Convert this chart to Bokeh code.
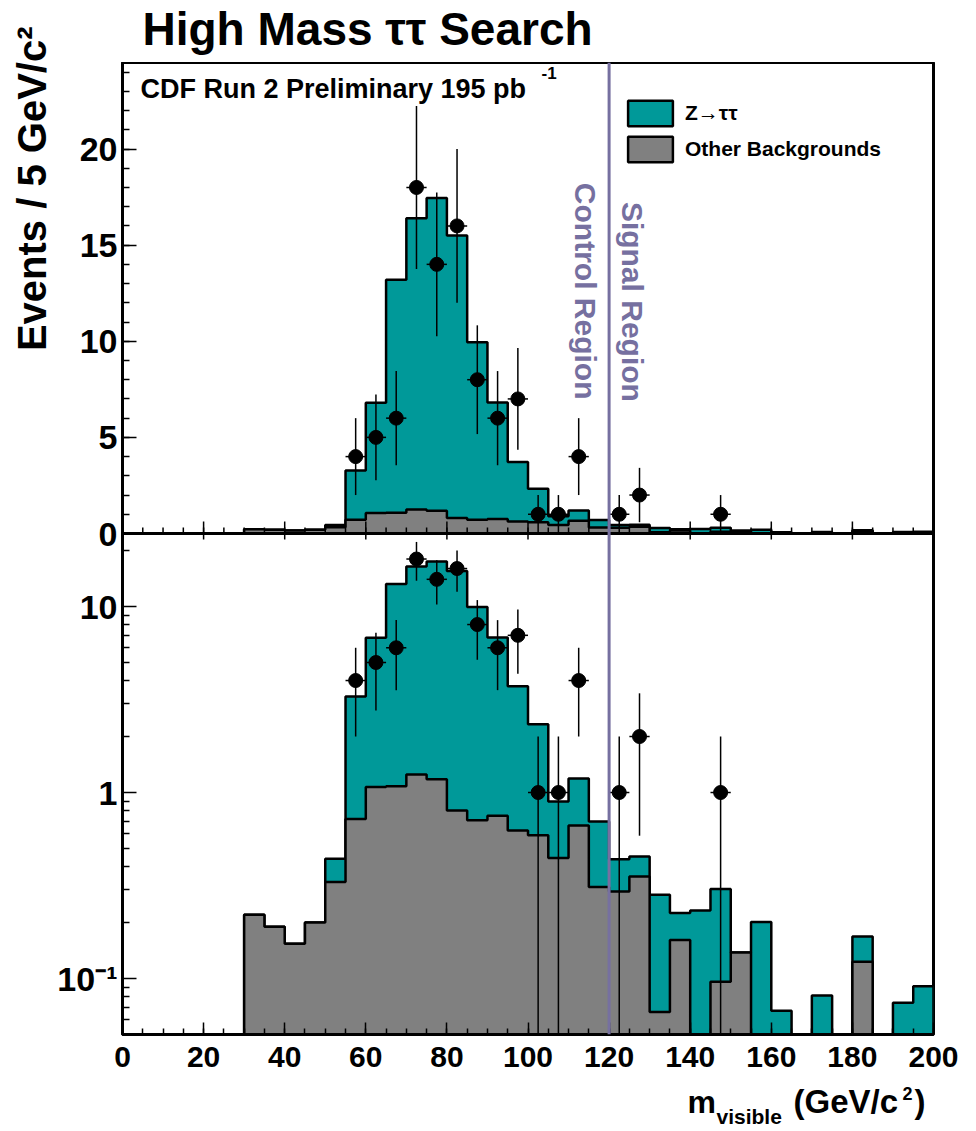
import numpy as np
from bokeh.plotting import figure
from bokeh.layouts import column, row
from bokeh.models import (FixedTicker, Span, Label, Legend, LegendItem, Range1d,
                          ColumnDataSource, LogScale)
from bokeh.embed import file_html
from bokeh.resources import INLINE

# ---------------- data ----------------
bin_low = list(range(0, 200, 5))          # lower edges of the 5 GeV bins
bin_width = 5

other_bkg = [0, 0, 0, 0, 0, 0,
             0.22, 0.19, 0.154, 0.20, 0.33, 0.72, 1.07, 1.08, 1.25, 1.18,
             0.80, 0.71, 0.75, 0.625, 0.59, 0.444, 0.665, 0.31, 0.294, 0.353,
             0.066, 0.161, 0, 0.096, 0.138, 0, 0, 0, 0, 0, 0.123, 0, 0, 0]

z_tautau = [0, 0, 0, 0, 0, 0, 0, 0, 0, 0,
            0.11, 2.56, 5.73, 12.12, 15.15, 16.27, 14.7, 9.24, 6.07, 3.10,
            1.74, 0.451, 0.525, 0.388, 0.144, 0.100, 0.216, 0.064, 0.232, 0.207,
            0, 0.201, 0.067, 0, 0.081, 0, 0.045, 0, 0.074, 0.091]

data_counts = [0, 0, 0, 0, 0, 0, 0, 0, 0, 0,
               0, 4, 5, 6, 18, 14, 16, 8, 6, 7,
               1, 1, 4, 0, 1, 2, 0, 0, 0, 1,
               0, 0, 0, 0, 0, 0, 0, 0, 0, 0]

boundary = 120  # control / signal region boundary

x_major = list(range(0, 201, 20))
x_minor = list(range(0, 201, 5))
lin_major = [0, 5, 10, 15, 20]
lin_minor = list(range(0, 25))
log_major = [0.1, 1, 10]
log_labels = ["10⁻¹", "1", "10"]
log_minor = [0.05, 0.06, 0.07, 0.08, 0.09, 0.2, 0.3, 0.4, 0.5, 0.6, 0.7, 0.8, 0.9,
             2, 3, 4, 5, 6, 7, 8, 9, 20]

TEAL = "#009999"
GRAY = "#808080"
PURPLE = "#7670a0"
FONT = "Liberation Sans"

# ---------------- layout geometry ----------------
W_L = 54                 # width of left strip holding the y title
FRAME_L = 122            # canvas x of the frame's left edge
FRAME_W = 811
UP_PX, LO_PX = 471, 501  # heights of the linear and log panels
FRAME_H = UP_PX + LO_PX
LIN_MAX = 24.5
LIN_PX = UP_PX / LIN_MAX
LIN_MIN = -LO_PX / LIN_PX
LOG_MIN = 0.05
DEC_PX = 186.0
LOG_MAX = LOG_MIN * 10 ** (FRAME_H / DEC_PX)
TOP_H, BOT_B = 62, 48
P_H = FRAME_H + BOT_B
H3 = 1131 - TOP_H - P_H
FRAME_BOTTOM = TOP_H + FRAME_H   # canvas y of frame bottom


def lin_of_log(v):
    px = (np.log10(v) - np.log10(LOG_MIN)) * DEC_PX
    return float(LIN_MIN + px / LIN_PX)


lo = np.array(bin_low, dtype=float)
hi = lo + bin_width
ctr = lo + bin_width / 2.0
other = np.array(other_bkg)
ztt = np.array(z_tautau)
total = other + ztt
obs = np.array(data_counts, dtype=float)
m = obs > 0
err = np.sqrt(obs)


def step_poly(vals, floor):
    xs, ys = [], []
    for a, b, v in zip(lo, hi, vals):
        v = max(v, floor)
        xs += [a, b]
        ys += [v, v]
    xs = [lo[0]] + xs + [hi[-1]]
    ys = [floor] + ys + [floor]
    return xs, ys


def blank(width, height):
    f = figure(width=width, height=height, x_range=Range1d(0, 1),
               y_range=Range1d(0, 1), output_backend="svg", toolbar_location=None,
               min_border=0, x_axis_location=None, y_axis_location=None,
               outline_line_color=None, title=None)
    f.grid.visible = False
    return f


p = figure(frame_width=FRAME_W, frame_height=FRAME_H,
           x_range=Range1d(0, 200), y_range=Range1d(LIN_MIN, LIN_MAX),
           output_backend="svg", toolbar_location=None, title=None,
           min_border_left=FRAME_L - W_L, min_border_right=976 - FRAME_L - FRAME_W,
           min_border_top=0, min_border_bottom=BOT_B)
p.extra_y_ranges = {"log": Range1d(LOG_MIN, LOG_MAX)}
p.extra_y_scales = {"log": LogScale()}
p.grid.visible = False
p.outline_line_color = "black"
p.outline_line_width = 3
for ax in p.axis:
    ax.axis_line_width = 3
    ax.major_tick_out = 0
    ax.minor_tick_out = 0
    ax.major_tick_line_width = 1.5
    ax.minor_tick_line_width = 1.5
    ax.major_label_text_font = FONT
    ax.major_label_text_font_style = "bold"
    ax.major_label_text_color = "black"

p.xaxis.ticker = FixedTicker(ticks=x_major, minor_ticks=x_minor)
p.xaxis.major_tick_in = 12
p.xaxis.minor_tick_in = 6
p.xaxis.major_label_text_font_size = "30px"
p.xaxis.major_label_standoff = 12

y_ticks = lin_major + [lin_of_log(v) for v in log_major]
y_minor = lin_minor + [lin_of_log(v) for v in log_minor]
p.yaxis.ticker = FixedTicker(ticks=y_ticks, minor_ticks=y_minor)
p.yaxis.major_tick_in = 14
p.yaxis.minor_tick_in = 7
p.yaxis.major_label_text_font_size = "34px"
p.yaxis.major_label_standoff = 5
p.yaxis.major_label_overrides = {lin_of_log(v): t for v, t in zip(log_major, log_labels)}

# ---- upper panel (linear) ----
xs, ys = step_poly(total, 0.0)
r_teal = p.patch(xs, ys, fill_color=TEAL, line_color="black", line_width=2.5)
xs, ys = step_poly(other, 0.0)
r_gray = p.patch(xs, ys, fill_color=GRAY, line_color="black", line_width=2.5)

# ---- lower panel (log) ----
floor = 1e-3
xs, ys = step_poly(total, floor)
p.patch(xs, ys, fill_color=TEAL, line_color="black", line_width=2.5,
        y_range_name="log")
xs, ys = step_poly(other, floor)
p.patch(xs, ys, fill_color=GRAY, line_color="black", line_width=2.5,
        y_range_name="log")

# separator between the panels and its ticks
p.add_layout(Span(location=0, dimension="width", line_color="black", line_width=3))
p.segment(x0=x_minor, y0=[0] * len(x_minor), x1=x_minor,
          y1=[6 / LIN_PX] * len(x_minor), line_color="black", line_width=1.5)
p.segment(x0=x_major, y0=[-6 / LIN_PX] * len(x_major), x1=x_major,
          y1=[12 / LIN_PX] * len(x_major), line_color="black", line_width=1.5)

p.add_layout(Span(location=boundary, dimension="height", line_color=PURPLE,
                  line_width=3))


def draw_data(fl, **kw):
    y = obs[m]
    src = ColumnDataSource(dict(x=ctr[m], y=y, lo=np.maximum(y - err[m], fl),
                                hi=y + err[m], xl=lo[m], xh=hi[m]))
    p.segment(x0="x", y0="lo", x1="x", y1="hi", source=src,
              line_color="black", line_width=1.5, **kw)
    p.segment(x0="xl", y0="y", x1="xh", y1="y", source=src,
              line_color="black", line_width=1.5, **kw)
    p.scatter(x="x", y="y", source=src, size=14, marker="circle",
              fill_color="black", line_color="black", **kw)


draw_data(0.0)
draw_data(floor, y_range_name="log")

legend = Legend(items=[LegendItem(label="Z→ττ", renderers=[r_teal]),
                       LegendItem(label="Other Backgrounds", renderers=[r_gray])],
                location=(500, FRAME_BOTTOM - 165), glyph_width=56, glyph_height=32,
                spacing=4, padding=0, margin=0, label_standoff=7,
                label_text_font=FONT, label_text_font_size="21px",
                label_text_font_style="bold", label_text_color="black",
                border_line_alpha=0, background_fill_alpha=0)
p.add_layout(legend)

bold = dict(text_font=FONT, text_font_style="bold", text_color="black")
p.add_layout(Label(x=140 - FRAME_L, y=FRAME_BOTTOM - 88, x_units="screen",
                   y_units="screen", text="CDF Run 2 Preliminary 195 pb",
                   text_font_size="27px", text_baseline="middle", **bold))
p.add_layout(Label(x=541 - FRAME_L, y=FRAME_BOTTOM - 72, x_units="screen",
                   y_units="screen", text="-1", text_font_size="17px",
                   text_baseline="middle", **bold))
p.add_layout(Label(x=114.2, y=18.24, text="Control Region", angle=-np.pi / 2,
                   text_align="left", text_baseline="middle",
                   text_font=FONT, text_font_style="bold", text_font_size="30px",
                   text_color=PURPLE))
p.add_layout(Label(x=125.8, y=17.25, text="Signal Region", angle=-np.pi / 2,
                   text_align="left", text_baseline="middle",
                   text_font=FONT, text_font_style="bold", text_font_size="30px",
                   text_color=PURPLE))

# ---- top strip: title ----
ptop = blank(976 - W_L, TOP_H)
ptop.add_layout(Label(x=142 - FRAME_L, y=TOP_H - 28, x_units="screen",
                      y_units="screen", text="High Mass ττ Search",
                      text_font_size="46px", text_baseline="middle", **bold))

# ---- left strip: y-axis title ----
pl = blank(W_L, 1131)
pl.add_layout(Label(x=31, y=1131 - 26, x_units="screen", y_units="screen",
                    text="Events / 5 GeV/c²", text_font_size="40px",
                    angle=np.pi / 2, text_align="right", text_baseline="middle",
                    **bold))

# ---- bottom strip: x-axis title ----
p3 = blank(976 - W_L, H3)
xl_parts = [("m", 687, 1101, "32px"), ("visible", 716, 1116, "21px"),
            ("(GeV/c", 793, 1101, "33px"), ("2", 902, 1093, "18px"),
            (")", 914, 1101, "33px")]
for txt, X, Y, fs in xl_parts:
    p3.add_layout(Label(x=X - FRAME_L, y=1131 - Y, x_units="screen",
                        y_units="screen", text=txt, text_font_size=fs,
                        text_baseline="middle", **bold))

layout = row(pl, column(ptop, p, p3, spacing=0), spacing=0)
open("out.html", "w").write(file_html(layout, INLINE))
